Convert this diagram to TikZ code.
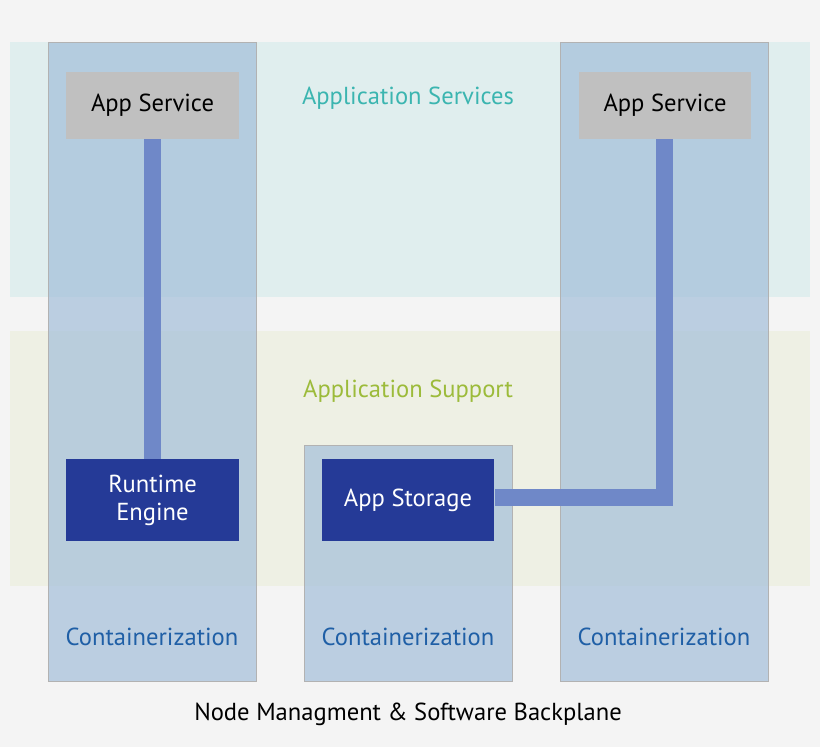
\documentclass[tikz,border=0pt]{standalone}
\usepackage{fontspec}
\setmainfont{PT Sans}
\usetikzlibrary{positioning}
\definecolor{bgc}{HTML}{F4F4F4}
\definecolor{svcband}{HTML}{E0EEEE}
\definecolor{supband}{HTML}{EEF0E4}
\definecolor{colc}{HTML}{9DBBD8}
\definecolor{boxgray}{HTML}{C0C0C0}
\definecolor{boxblue}{HTML}{253A97}
\definecolor{linkc}{HTML}{6F88C8}
\definecolor{tealc}{HTML}{3BB5B0}
\definecolor{greenc}{HTML}{9CBB3A}
\definecolor{contc}{HTML}{1F5FA6}

\tikzstyle{band} = [draw=none, inner sep=0pt, minimum width=16cm, minimum height=5.1cm]
\tikzstyle{col} = [draw=gray!60, fill=colc, fill opacity=0.65, inner sep=0pt, minimum width=4.16cm]
\tikzstyle{svc} = [fill=boxgray, minimum width=3.46cm, minimum height=1.34cm, font=\fontsize{14}{16}\selectfont]
\tikzstyle{blk} = [fill=boxblue, text=white, minimum width=3.46cm, minimum height=1.64cm, align=center, font=\fontsize{14}{16}\selectfont]
\tikzstyle{lbl} = [font=\fontsize{14}{16}\selectfont]
\tikzstyle{link} = [draw=linkc, line width=0.34cm]

\begin{document}
\begin{tikzpicture}[x=0.02cm, y=-0.02cm]
\useasboundingbox (0,0) rectangle (820,747);
\fill[bgc] (0,0) rectangle (820,747);

\node[band, fill=svcband] (Services) at (410,169.5) {};
\node[band, fill=supband] (Support) at (410,458.5) {};

\node[col, minimum height=12.78cm] (ColL) at (152,361.5) {};
\node[col, minimum height=12.78cm] (ColR) at (664.5,361.5) {};
\node[col, minimum height=4.72cm] (ColM) at (408.5,563) {};

\node[lbl, text=tealc] (ServicesLbl) at (408,98) {Application Services};
\node[lbl, text=greenc] (SupportLbl) at (408,391) {Application Support};

\node[svc] (SvcL) at (152.5,105.5) {App Service};
\node[svc] (SvcR) at (665,105.5) {App Service};
\node[blk] (Runtime) at (152.5,500) {Runtime\\Engine};
\node[blk] (Storage) at (408,500) {App Storage};

\coordinate (Bend) at (664,497);
\draw[link] (SvcL.south) -- (Runtime.north);
\draw[link] ([xshift=-0.02cm]SvcR.south) -- (Bend) -- (Storage.east |- Bend);

\node[lbl, text=contc] (ContL) at (152,637) {Containerization};
\node[lbl, text=contc] (ContM) at (408,637) {Containerization};
\node[lbl, text=contc] (ContR) at (664,637) {Containerization};

\node[lbl] (Backplane) at (408,714) {Node Managment \& Software Backplane};
\end{tikzpicture}
\end{document}
